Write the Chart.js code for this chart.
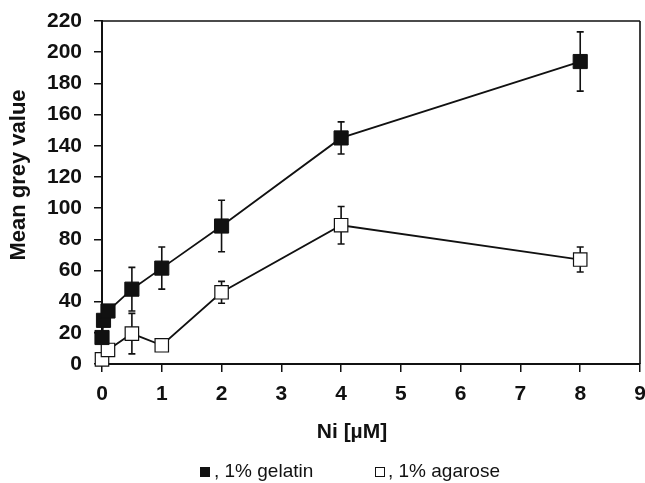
<!DOCTYPE html>
<html>
<head>
<meta charset="utf-8">
<script src="https://cdn.jsdelivr.net/npm/chart.js@4.4.1/dist/chart.umd.min.js"></script>
<style>
  body { margin: 0; background: #fff; }
  #wrap { width: 645px; height: 483px; position: relative; }
</style>
</head>
<body>
<div id="wrap"><canvas id="myChart"></canvas></div>
<script>
// Ni concentration (µM) and mean grey values
const gelatinX = [0, 0.025, 0.1, 0.5, 1, 2, 4, 8];
const gelatinY = [17, 28, 34, 48, 61.5, 88.5, 145, 194];
const gelatinErr = [0, 0, 0, 14, 13.5, 16.5, 10.3, 19];

const agaroseX = [0, 0.1, 0.5, 1, 2, 4, 8];
const agaroseY = [3, 9, 19.5, 12, 46, 89, 67];
const agaroseErr = [0, 0, 13, 0, 7, 12, 8];

const xTicks = [0, 1, 2, 3, 4, 5, 6, 7, 8, 9];
const yTicks = [0, 20, 40, 60, 80, 100, 120, 140, 160, 180, 200, 220];

const legendLabels = [', 1% gelatin', ', 1% agarose'];
const xTitle = 'Ni [\u00b5M]';
const yTitle = 'Mean grey value';

const FONT = '"Liberation Sans", Arial, Helvetica, sans-serif';

const toPoints = (xs, ys) => xs.map((x, i) => ({ x: x, y: ys[i] }));

// error bars drawn under the markers so open squares hide them
const errorBars = {
    id: 'errorBars',
    beforeDatasetsDraw(chart) {
        const { ctx, scales: { x, y } } = chart;
        const sets = [[gelatinX, gelatinY, gelatinErr], [agaroseX, agaroseY, agaroseErr]];
        ctx.save();
        ctx.strokeStyle = '#111';
        ctx.lineWidth = 1.6;
        sets.forEach(([xs, ys, es]) => {
            xs.forEach((v, i) => {
                if (!es[i]) return;
                const px = x.getPixelForValue(v);
                const top = y.getPixelForValue(ys[i] + es[i]);
                const bot = y.getPixelForValue(ys[i] - es[i]);
                ctx.beginPath();
                ctx.moveTo(px, top); ctx.lineTo(px, bot);
                ctx.moveTo(px - 3.5, top); ctx.lineTo(px + 3.5, top);
                ctx.moveTo(px - 3.5, bot); ctx.lineTo(px + 3.5, bot);
                ctx.stroke();
            });
        });
        ctx.restore();
    }
};

// frame lines, axis titles and the legend line under the plot
const decorations = {
    id: 'decorations',
    afterDraw(chart) {
        const { ctx, chartArea: a } = chart;
        ctx.save();
        ctx.strokeStyle = '#111';
        ctx.lineWidth = 1.6;
        ctx.beginPath();
        ctx.moveTo(a.left, a.top); ctx.lineTo(a.right, a.top);
        ctx.moveTo(a.right, a.top); ctx.lineTo(a.right, a.bottom);
        ctx.stroke();

        ctx.fillStyle = '#111';
        ctx.font = 'bold 21px ' + FONT;
        ctx.textAlign = 'center';
        ctx.textBaseline = 'middle';
        ctx.fillText(xTitle, 352, 432);

        ctx.save();
        ctx.translate(19, 175);
        ctx.rotate(-Math.PI / 2);
        ctx.font = 'bold 22px ' + FONT;
        ctx.fillText(yTitle, 0, 0);
        ctx.restore();

        // legend
        ctx.font = '19px ' + FONT;
        ctx.textAlign = 'left';
        ctx.textBaseline = 'alphabetic';
        ctx.fillRect(200, 467, 10, 10);
        ctx.fillText(legendLabels[0], 214, 477);
        ctx.lineWidth = 1;
        ctx.strokeRect(375.5, 467.5, 9, 9);
        ctx.fillText(legendLabels[1], 388, 477);
        ctx.restore();
    }
};

const ctx = document.getElementById('myChart').getContext('2d');
const myChart = new Chart(ctx, {
    type: 'scatter',
    data: {
        datasets: [
            {
                label: 'gelatin',
                data: toPoints(gelatinX, gelatinY),
                showLine: true,
                clip: false,
                borderColor: '#111',
                borderWidth: 1.8,
                pointStyle: 'rect',
                pointRadius: 10,
                pointBackgroundColor: '#111',
                pointBorderColor: '#111',
                pointBorderWidth: 1
            },
            {
                label: 'agarose',
                data: toPoints(agaroseX, agaroseY),
                showLine: true,
                clip: false,
                borderColor: '#111',
                borderWidth: 1.8,
                pointStyle: 'rect',
                pointRadius: 9.5,
                pointBackgroundColor: '#fff',
                pointBorderColor: '#111',
                pointBorderWidth: 1.2
            }
        ]
    },
    options: {
        responsive: true,
        maintainAspectRatio: false,
        animation: false,
        layout: { autoPadding: false, padding: { top: 21, right: 5, left: 0, bottom: 0 } },
        plugins: {
            legend: { display: false },
            tooltip: { enabled: false }
        },
        scales: {
            x: {
                type: 'linear',
                min: 0,
                max: 9,
                afterFit: (s) => { s.height = 119; s.paddingLeft = 0; s.paddingRight = 0; },
                afterBuildTicks: (s) => { s.ticks = xTicks.map(v => ({ value: v })); },
                grid: { drawOnChartArea: false, drawTicks: true, tickLength: 8, color: '#111', lineWidth: 1.5 },
                border: { display: true, color: '#111', width: 2 },
                ticks: { color: '#111', padding: 10, font: { family: FONT, size: 21, weight: 'bold' } }
            },
            y: {
                min: 0,
                max: 220,
                afterFit: (s) => { s.width = 102; s.paddingTop = 0; s.paddingBottom = 0; },
                afterBuildTicks: (s) => { s.ticks = yTicks.map(v => ({ value: v })); },
                grid: { drawOnChartArea: false, drawTicks: true, tickLength: 8, color: '#111', lineWidth: 1.5 },
                border: { display: true, color: '#111', width: 2 },
                ticks: { color: '#111', padding: 12, font: { family: FONT, size: 21, weight: 'bold' } }
            }
        }
    },
    plugins: [errorBars, decorations]
});
</script>
</body>
</html>
